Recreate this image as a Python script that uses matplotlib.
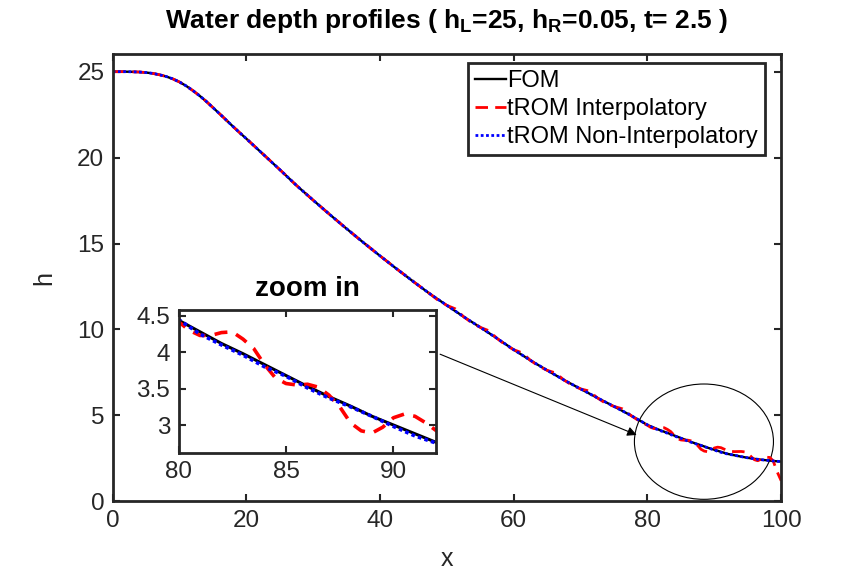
import matplotlib.pyplot as plt
from matplotlib.patches import Ellipse

plt.rcParams['font.family'] = ['Liberation Sans', 'DejaVu Sans']
plt.rcParams['mathtext.fontset'] = 'custom'
plt.rcParams['mathtext.rm'] = 'Liberation Sans'
plt.rcParams['mathtext.bf'] = 'Liberation Sans:bold'

AX_COLOR = '#262626'

# values
x_fom = [0, 2, 4, 5, 6, 7, 8, 9, 10, 11, 12, 13, 14, 15, 16, 17, 18, 19, 20, 22,
         25, 27.5, 30, 32.5, 35, 37.5, 40, 42.5, 45, 47.5, 50, 52.5, 55, 57.5,
         60, 62.5, 65, 67.5, 70, 72.5, 75, 77.5, 80, 81, 82, 83, 84, 85, 86, 87,
         88, 89, 90, 91, 92, 93, 94, 95, 96, 97, 98, 99, 100]
h_fom = [25.0, 25.0, 24.98, 24.95, 24.9, 24.82, 24.72, 24.58, 24.4, 24.17, 23.9,
         23.6, 23.27, 22.91, 22.55, 22.18, 21.81, 21.45, 21.1, 20.38,
         19.3, 18.38, 17.52, 16.68, 15.86, 15.06, 14.28, 13.52, 12.78, 12.06,
         11.40, 10.74, 10.12, 9.48, 8.82, 8.20, 7.62, 7.06, 6.54, 6.02, 5.52,
         5.00, 4.44, 4.28, 4.12, 3.98, 3.83, 3.68, 3.53, 3.39, 3.26, 3.12, 3.00,
         2.88, 2.76, 2.68, 2.60, 2.53, 2.47, 2.42, 2.38, 2.34, 2.31]
# non-interpolatory tROM, same grid as FOM
h_nonint = [25.0, 25.0, 24.98, 24.95, 24.9, 24.82, 24.72, 24.58, 24.4, 24.17, 23.9,
            23.6, 23.27, 22.91, 22.55, 22.18, 21.81, 21.45, 21.1, 20.38,
            19.3, 18.38, 17.52, 16.68, 15.86, 15.06, 14.28, 13.52, 12.78, 12.06,
            11.40, 10.74, 10.12, 9.48, 8.82, 8.20, 7.62, 7.06, 6.54, 6.02, 5.52,
            5.00, 4.45, 4.25, 4.10, 3.96, 3.80, 3.67, 3.51, 3.37, 3.25, 3.12, 2.98,
            2.85, 2.75, 2.68, 2.60, 2.53, 2.47, 2.42, 2.38, 2.34, 2.31]
# interpolatory tROM (oscillates near the front)
x_int = [0, 2, 4, 5, 6, 7, 8, 9, 10, 11, 12, 13, 14, 15, 16, 17, 18, 19, 20, 22,
         25, 27.5, 30, 32.5, 35, 37.5, 40, 42.5, 45, 46.25, 47.5, 48.75, 50, 51.25,
         52.5, 53.75, 55, 56.25, 57.5, 58.75, 60, 61.25, 62.5, 63.75, 65, 66.25,
         67.5, 68.75, 70, 71.25, 72.5, 73.75, 75, 76.25, 77.5, 78.75, 80, 80.5, 81,
         81.5, 82, 82.5, 83, 83.5, 84, 84.5, 85, 85.5, 86, 86.5, 87, 87.5, 88,
         88.5, 89, 89.5, 90, 90.5, 91, 91.5, 92, 93, 94, 94.9, 95.5, 96, 96.5, 97,
         97.6, 98.3, 98.8, 99.4, 100]
h_int = [25.0, 25.0, 24.98, 24.95, 24.9, 24.82, 24.72, 24.58, 24.4, 24.17, 23.9,
         23.6, 23.27, 22.91, 22.55, 22.18, 21.81, 21.45, 21.1, 20.38,
         19.3, 18.38, 17.52, 16.68, 15.86, 15.06, 14.28, 13.52, 12.78, 12.42,
         12.06, 11.68, 11.40, 11.20, 10.74, 10.38, 10.12, 9.93, 9.48, 9.10, 8.82,
         8.64, 8.20, 7.86, 7.62, 7.47, 7.06, 6.75, 6.54, 6.42, 6.02, 5.70, 5.52,
         5.38, 5.00, 4.68, 4.42, 4.30, 4.23, 4.23, 4.27, 4.28, 4.18, 4.05, 3.83,
         3.65, 3.57, 3.55, 3.56, 3.52, 3.41, 3.25, 3.03, 2.92, 2.89, 2.97, 3.10,
         3.15, 3.12, 3.03, 2.92, 2.89, 2.90, 2.86, 2.60, 2.42, 2.36, 2.45, 2.57,
         2.55, 2.36, 1.72, 1.20]


def style_axes(a, size):
    for s in a.spines.values():
        s.set_linewidth(2.0)
        s.set_color(AX_COLOR)
    a.tick_params(direction='in', top=True, right=True, length=5, width=1.5,
                  color=AX_COLOR, labelcolor=AX_COLOR, labelsize=size, pad=6)


def draw_lines(a, lw_fom, lw_rom, red_dash, label=True):
    a.plot(x_fom, h_fom, color='k', lw=lw_fom, label='FOM' if label else None)
    a.plot(x_int, h_int, color='r', lw=lw_rom, linestyle=(0, red_dash),
           label='tROM Interpolatory' if label else None)
    a.plot(x_fom, h_nonint, color='b', lw=lw_rom, linestyle=(0, (1, 0.9)),
           label='tROM Non-Interpolatory' if label else None)


fig = plt.figure(figsize=(8.64, 5.76), dpi=100)
ax = fig.add_axes([0.1304, 0.1297, 0.7737, 0.7757])
draw_lines(ax, 1.7, 2.0, (4.5, 2.6))
ax.set_xlim(0, 100)
ax.set_ylim(0, 26)
ax.set_xticks([0, 20, 40, 60, 80, 100])
ax.set_yticks([0, 5, 10, 15, 20, 25])
style_axes(ax, 17.5)
ax.set_xlabel('x', fontsize=18, color=AX_COLOR, labelpad=11)
ax.set_ylabel('h', fontsize=18, color=AX_COLOR, labelpad=15)
ax.set_title('Water depth profiles ( h$_\\mathbf{L}$=25, h$_\\mathbf{R}$=0.05, t= 2.5 )',
             fontsize=19, fontweight='bold', pad=19)

leg = ax.legend(loc='upper right', bbox_to_anchor=(0.976, 0.981), borderaxespad=0,
                fontsize=17, handlelength=1.3, handletextpad=0.05,
                labelspacing=0.25, borderpad=0.3, fancybox=False, framealpha=1)
leg.get_frame().set_edgecolor(AX_COLOR)
leg.get_frame().set_linewidth(2.0)

ax.add_patch(Ellipse((88.45, 3.47), 20.8, 6.71, fill=False, ec='k', lw=0.8,
                     clip_on=False))
ax.annotate('', xy=(78.4, 3.86), xytext=(48.98, 8.56),
            arrowprops=dict(arrowstyle='-|>', color='k', lw=0.8,
                            mutation_scale=14, shrinkA=0, shrinkB=0))

# zoomed inset
axin = fig.add_axes([0.2066, 0.2141, 0.2986, 0.2477])
draw_lines(axin, 2.2, 2.6, (3.6, 2.6), label=False)
axin.set_xlim(80, 92)
axin.set_ylim(2.62, 4.58)
axin.set_xticks([80, 85, 90])
axin.set_yticks([3, 3.5, 4, 4.5])
axin.set_yticklabels(['3', '3.5', '4', '4.5'])
style_axes(axin, 17.5)
axin.set_title('zoom in', fontsize=20, fontweight='bold', pad=10)

fig.savefig('out.png', dpi=100)
